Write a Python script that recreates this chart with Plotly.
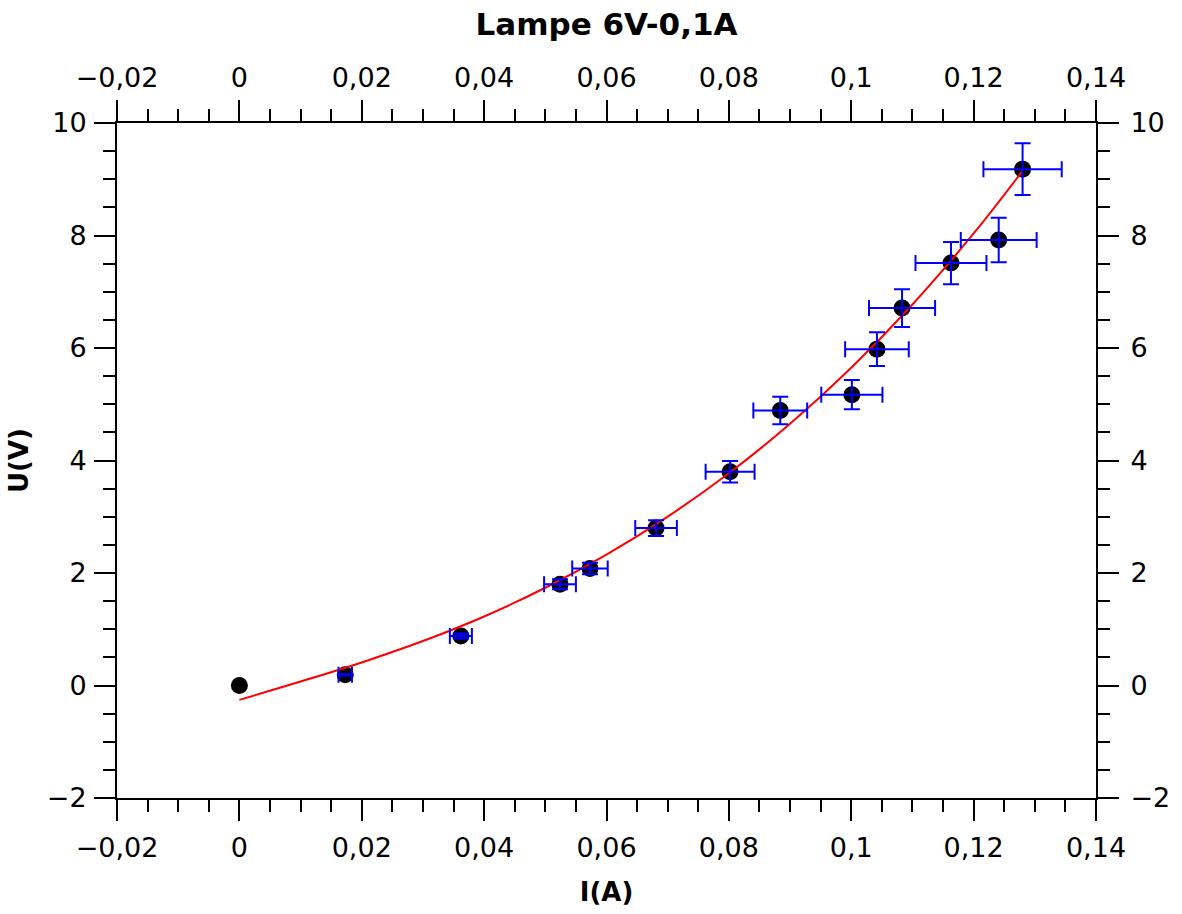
import plotly.graph_objects as go

# Measured points: current I (A) and voltage U (V)
I_A = [0, 0.0173, 0.0362, 0.0524, 0.0573, 0.0681, 0.0802, 0.0884, 0.1001, 0.1042, 0.1083, 0.1163, 0.1241, 0.128]
U_V = [0, 0.19, 0.88, 1.80, 2.08, 2.80, 3.80, 4.89, 5.17, 5.98, 6.71, 7.51, 7.92, 9.18]

# Error bars (first point at the origin has none)
I_err = [0.0011, 0.0018, 0.0026, 0.0029, 0.0034, 0.0040, 0.0044, 0.0050, 0.0052, 0.0054, 0.0058, 0.0062, 0.0064]
U_err = [0.01, 0.044, 0.09, 0.104, 0.14, 0.19, 0.245, 0.26, 0.30, 0.335, 0.375, 0.395, 0.46]

# Fitted curve
fit_I = [0, 0.01, 0.02, 0.03, 0.04, 0.05, 0.06, 0.07, 0.08, 0.09, 0.10, 0.11, 0.12, 0.128]
fit_U = [-0.255, 0.07, 0.41, 0.79, 1.227, 1.738, 2.326, 3.002, 3.774, 4.653, 5.650, 6.774, 8.036, 9.15]

x_ticks = [-0.02, 0, 0.02, 0.04, 0.06, 0.08, 0.1, 0.12, 0.14]
y_ticks = [-2, 0, 2, 4, 6, 8, 10]

FONT = "DejaVu Sans"
TICKFONT = dict(family=FONT, size=27, color="black")

fig = go.Figure()

fig.add_trace(go.Scatter(
    x=I_A, y=U_V, mode="markers",
    marker=dict(color="black", size=17, line=dict(width=0)),
    showlegend=False, hoverinfo="skip"))

fig.add_trace(go.Scatter(
    x=fit_I, y=fit_U, mode="lines", line=dict(color="red", width=2, shape="spline"),
    showlegend=False, hoverinfo="skip"))

fig.add_trace(go.Scatter(
    x=I_A[1:], y=U_V[1:], mode="markers",
    marker=dict(color="rgba(0,0,0,0)", size=1),
    error_x=dict(type="data", array=I_err, color="blue", thickness=2, width=8),
    error_y=dict(type="data", array=U_err, color="blue", thickness=2, width=8),
    showlegend=False, hoverinfo="skip"))

# invisible trace to anchor the mirrored (top/right) axes
fig.add_trace(go.Scatter(
    x=I_A, y=U_V, xaxis="x2", yaxis="y2", mode="markers",
    marker=dict(color="rgba(0,0,0,0)", size=1),
    showlegend=False, hoverinfo="skip"))

common = dict(
    showgrid=False, zeroline=False, showline=True, linecolor="black", linewidth=2,
    ticks="outside", ticklen=21, tickwidth=2, tickcolor="black",
    tickfont=TICKFONT,
)

fig.update_layout(
    width=1182, height=914,
    margin=dict(l=117, r=82, t=123, b=116),
    paper_bgcolor="white", plot_bgcolor="white",
    separators=", ",
    title=dict(text="<b>Lampe 6V-0,1A</b>", x=0.5, xanchor="center", xref="paper",
               y=1, yanchor="top", yref="container", pad=dict(t=13),
               font=dict(family=FONT, size=31, color="black")),
    xaxis=dict(range=[-0.02, 0.14], tickvals=x_ticks,
               minor=dict(dtick=0.005, tick0=0, ticklen=12, tickwidth=2, tickcolor="black", ticks="outside"),
               title=dict(text="<b>I(A)</b>", font=dict(family=FONT, size=26, color="black"), standoff=20),
               ticklabelstandoff=4,
               **common),
    xaxis2=dict(range=[-0.02, 0.14], tickvals=x_ticks, overlaying="x", side="top", anchor="y",
                minor=dict(dtick=0.005, tick0=0, ticklen=12, tickwidth=2, tickcolor="black", ticks="outside"),
                ticklabelstandoff=2,
                **common),
    yaxis=dict(range=[-2, 10], tickvals=y_ticks,
               minor=dict(dtick=0.5, tick0=0, ticklen=12, tickwidth=2, tickcolor="black", ticks="outside"),
               title=dict(text="<b>U(V)</b>", font=dict(family=FONT, size=26, color="black"), standoff=11),
               ticklabelstandoff=2,
               **common),
    yaxis2=dict(range=[-2, 10], tickvals=y_ticks, overlaying="y", side="right", anchor="x",
                minor=dict(dtick=0.5, tick0=0, ticklen=12, tickwidth=2, tickcolor="black", ticks="outside"),
                ticklabelstandoff=6,
                **common),
)

fig.write_html("out.html", config={"displayModeBar": False},
               post_script="document.body.style.margin='0';document.body.style.overflow='hidden';")
